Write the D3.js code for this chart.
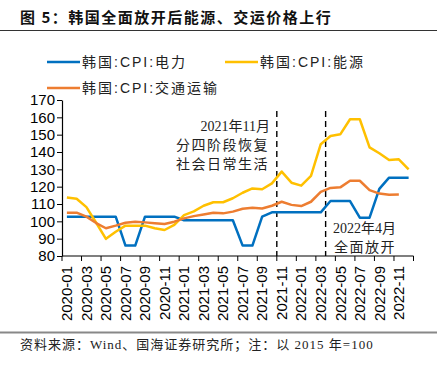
<!DOCTYPE html>
<html><head><meta charset="utf-8">
<script src="https://cdn.jsdelivr.net/npm/d3@7/dist/d3.min.js"></script>
<style>
html,body{margin:0;padding:0;background:#fff;}
svg{display:block;}
</style></head>
<body><svg id="c" width="437" height="365"></svg>
<script>
// ---- data ----
const months = [];
for (let yr = 2020; yr <= 2022; yr++) for (let m = 1; m <= 12; m++) months.push(yr + "-" + String(m).padStart(2, "0"));
const electricity = [102.7,102.7,102.7,102.7,102.7,102.7,86,86,102.7,102.7,102.7,102.7,
  100.6,100.6,100.6,100.6,100.6,100.6,86,86,102.7,105.2,105.2,105.2,
  105.2,105.2,105.2,111.7,111.7,111.7,102.1,102.1,118.7,125.2,125.2,125.2];
const energy = [113.8,113,108.2,99.2,89.9,94,97.5,97.5,97.5,96,95,98,
  103.6,105.7,109,111,111,113.3,116.5,119,118.5,121.9,128.7,122.3,
  120.6,126.2,144.5,149.2,150.2,158.9,158.9,142.7,139.3,135.4,135.8,130];
const transport = [105,105,102.7,99,96,97.5,99.2,99.8,99.4,98.9,98.5,99.8,
  101.7,103,104,105,104.6,105.6,107.3,107.8,107.4,109,111.3,109.5,
  108.8,111.3,117,119.3,119.6,123.4,123.4,118,116,115.3,115.5];
const yTicks = [80,90,100,110,120,130,140,150,160,170];
const seriesNames = ["韩国:CPI:电力","韩国:CPI:能源","韩国:CPI:交通运输"];
const seriesColors = ["#0070C0","#FFC000","#ED7D31"];
const markers = ["2021-11","2022-04"];

(function(){
const svg = d3.select("#c");
const pL = 62, pR = 413.5, pT = 100, pB = 256;
const x = d3.scaleBand().domain(months).range([pL, pR]);
const y = d3.scaleLinear().domain([80,170]).range([pB, pT]);
const cx = m => x(m) + x.bandwidth()/2;

// title
svg.append("text").attr("x",20).attr("y",23).attr("font-family","Noto Sans CJK SC").attr("font-weight","bold")
  .attr("font-size",15).attr("letter-spacing",1.5).attr("fill","#111").text("图 5：韩国全面放开后能源、交运价格上行");
svg.append("line").attr("x1",0).attr("x2",437).attr("y1",30.5).attr("y2",30.5).attr("stroke","#333").attr("stroke-width",1);

// legend
const leg = [{n:0,x:47,y:62},{n:1,x:225,y:62},{n:2,x:47,y:88}];
leg.forEach(l => {
  svg.append("line").attr("x1",l.x).attr("x2",l.x+33).attr("y1",l.y).attr("y2",l.y)
    .attr("stroke",seriesColors[l.n]).attr("stroke-width",2.5);
  svg.append("text").attr("x",l.x+35).attr("y",l.y+5).attr("font-family","Liberation Sans, Noto Sans CJK SC")
    .attr("font-size",14).attr("letter-spacing",2).attr("fill","#222").text(seriesNames[l.n]);
});

// y axis
const yAxis = svg.append("g").attr("transform",`translate(${pL},0)`)
  .call(d3.axisLeft(y).tickValues(yTicks).tickSize(5).tickSizeOuter(0));
yAxis.select(".domain").attr("stroke","#000").attr("stroke-width",1.2);
yAxis.selectAll(".tick line").attr("stroke","#000");
yAxis.selectAll("text").attr("font-family","Liberation Sans, Arial").attr("font-size",15).attr("fill","#000").attr("x",-7);

// x axis: ticks at band boundaries every 2 months
const tickIdx = d3.range(0, 37, 2);
const xg = svg.append("g");
xg.append("line").attr("x1",pL).attr("x2",pR).attr("y1",pB).attr("y2",pB).attr("stroke","#000").attr("stroke-width",1.2);
xg.selectAll("line.t").data(tickIdx).join("line").attr("class","t")
  .attr("x1",i => i < 36 ? x(months[i]) : pR).attr("x2",i => i < 36 ? x(months[i]) : pR)
  .attr("y1",pB).attr("y2",pB+5).attr("stroke","#000");
xg.selectAll("text").data(tickIdx.filter(i => i < 36)).join("text")
  .attr("transform",i => `translate(${cx(months[i])},${pB+10}) rotate(-90)`)
  .attr("text-anchor","end").attr("dy","0.35em")
  .attr("font-family","Liberation Sans, Arial").attr("font-size",15).attr("fill","#000")
  .text(i => months[i]);

// dashed markers
markers.forEach(m => {
  svg.append("line").attr("x1",x(m)).attr("x2",x(m)).attr("y1",111).attr("y2",pB)
    .attr("stroke","#000").attr("stroke-width",1.4).attr("stroke-dasharray","6,4");
});

// lines
const line = d3.line().x((d,i) => cx(months[i])).y(d => y(d));
[electricity, energy, transport].forEach((s, k) => {
  svg.append("path").datum(s).attr("d", line).attr("fill","none")
    .attr("stroke", seriesColors[k]).attr("stroke-width",2.5).attr("stroke-linejoin","round");
});

// annotations
const ann = svg.append("g").attr("font-family","Liberation Serif, Noto Sans CJK SC").attr("font-size",14).attr("fill","#222");
ann.append("text").attr("x",270).attr("y",131).attr("text-anchor","end").text("2021年11月");
ann.append("text").attr("x",269).attr("y",150).attr("text-anchor","end").attr("letter-spacing",1.5).text("分四阶段恢复");
ann.append("text").attr("x",269).attr("y",169).attr("text-anchor","end").attr("letter-spacing",1.5).text("社会日常生活");
ann.append("text").attr("x",333).attr("y",233).text("2022年4月");
ann.append("text").attr("x",334).attr("y",252).attr("letter-spacing",1.5).text("全面放开");

// footer
svg.append("line").attr("x1",0).attr("x2",437).attr("y1",332.5).attr("y2",332.5).attr("stroke","#888").attr("stroke-width",2);
svg.append("text").attr("x",20).attr("y",349).attr("font-family","Liberation Serif, Noto Sans CJK SC")
  .attr("font-size",13).attr("letter-spacing",1).attr("fill","#222").text("资料来源：Wind、国海证券研究所；注：以 2015 年=100");
})();
</script></body></html>
